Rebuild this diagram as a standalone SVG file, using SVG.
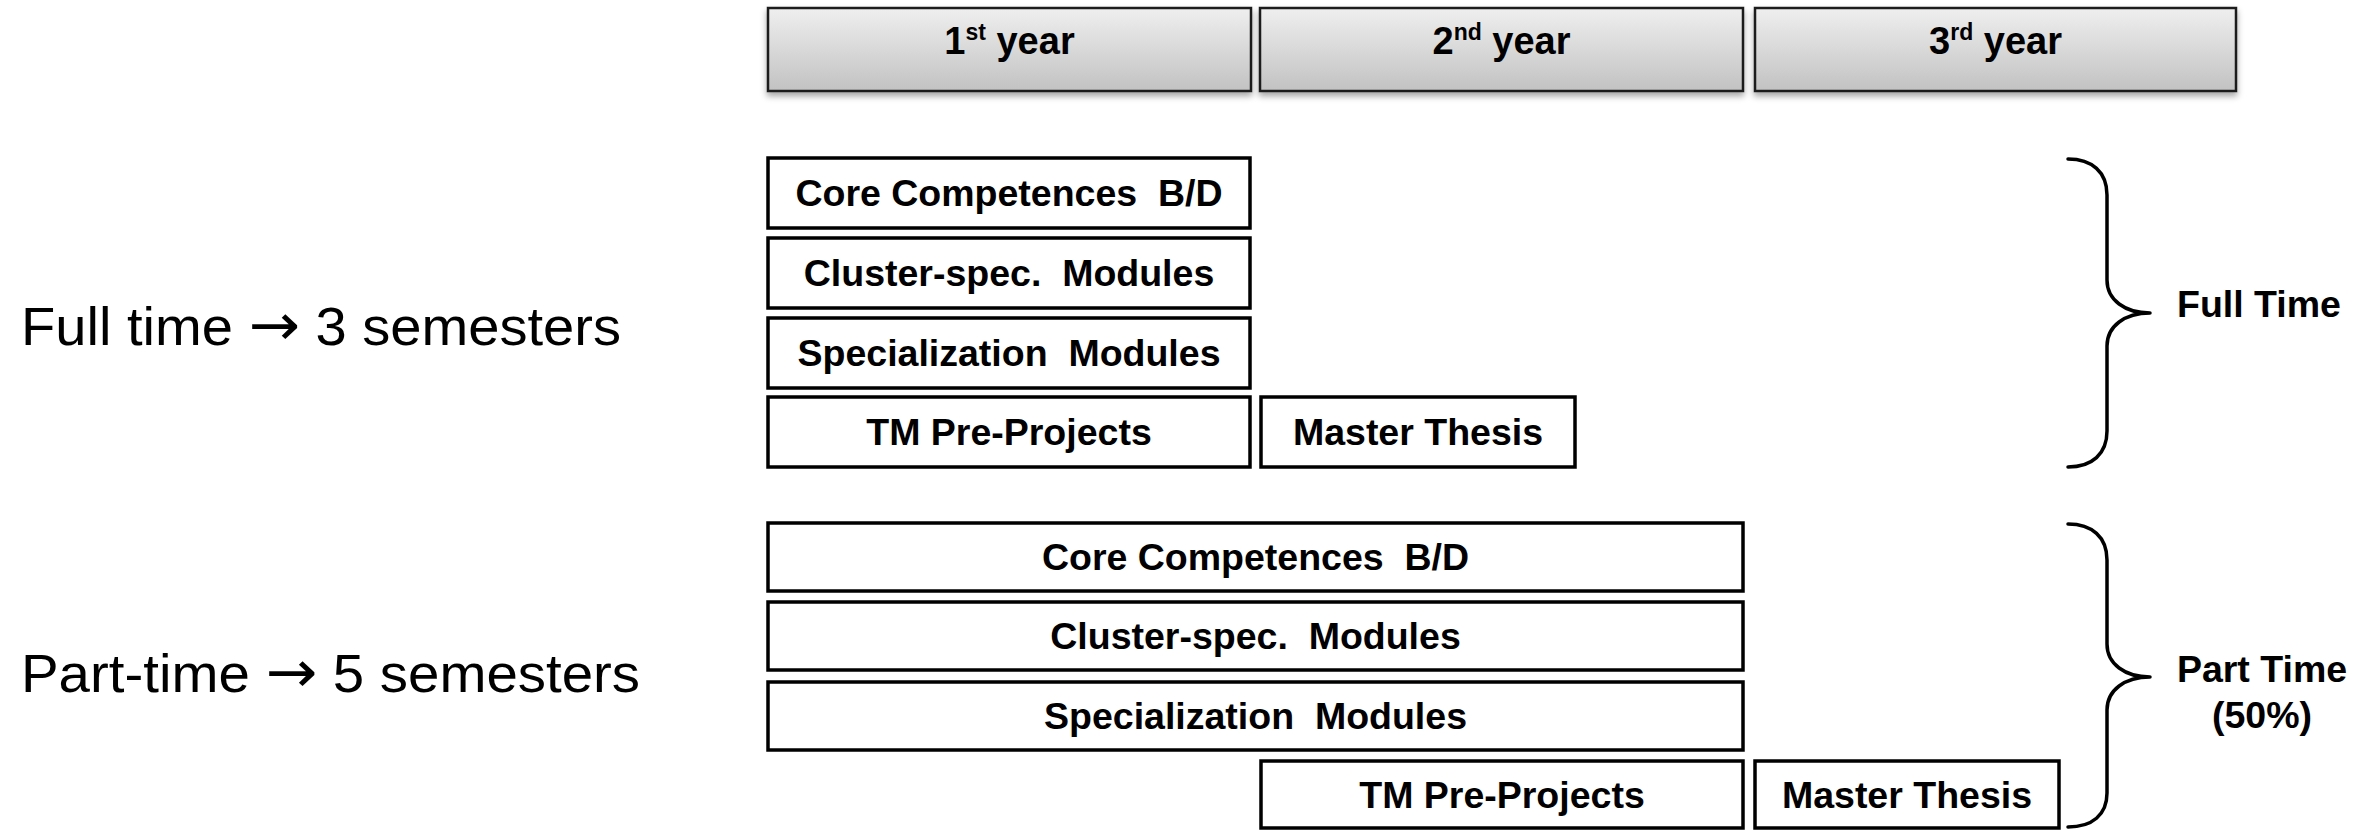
<svg xmlns="http://www.w3.org/2000/svg" width="2374" height="830" viewBox="0 0 2374 830">
<style>
.hdr{stroke:#1a1a1a;stroke-width:2.5;fill:url(#g);filter:url(#sh)}
.box{fill:#fff;stroke:#000;stroke-width:3.5}
.t{font-family:"Liberation Sans",Arial,sans-serif;font-weight:bold;font-size:37.5px;fill:#000;text-anchor:middle}
.h{font-family:"Liberation Sans",Arial,sans-serif;font-weight:bold;font-size:38px;fill:#000;text-anchor:middle}
.lbl{font-family:"Liberation Sans",Arial,sans-serif;font-size:53px;fill:#000}
.arr{font-family:"DejaVu Sans",sans-serif;font-size:58px}
.brace{fill:none;stroke:#000;stroke-width:3.5;stroke-linecap:round;stroke-linejoin:round}
</style>
<defs>
<linearGradient id="g" x1="0" y1="0" x2="0" y2="1">
<stop offset="0" stop-color="#efefef"/>
<stop offset="1" stop-color="#c2c2c2"/>
</linearGradient>
<filter id="sh" x="-5%" y="-20%" width="110%" height="150%">
<feDropShadow dx="0" dy="4" stdDeviation="3" flood-color="#000" flood-opacity="0.35"/>
</filter>
</defs>
<rect width="2374" height="830" fill="#fff"/>

<g id="year1"><rect class="hdr" x="768" y="8" width="483" height="83"/><text class="h" x="1009.5" y="54">1<tspan font-size="23" dy="-14">st</tspan><tspan dy="14"> year</tspan></text></g>
<g id="year2"><rect class="hdr" x="1260" y="8" width="483" height="83"/><text class="h" x="1501.5" y="54">2<tspan font-size="23" dy="-14">nd</tspan><tspan dy="14"> year</tspan></text></g>
<g id="year3"><rect class="hdr" x="1755" y="8" width="481" height="83"/><text class="h" x="1995.5" y="54">3<tspan font-size="23" dy="-14">rd</tspan><tspan dy="14"> year</tspan></text></g>

<text id="label-full" class="lbl" x="21" y="345" textLength="600" lengthAdjust="spacingAndGlyphs">Full time <tspan class="arr">→</tspan> 3 semesters</text>
<text id="label-part" class="lbl" x="21" y="692" textLength="619" lengthAdjust="spacingAndGlyphs">Part-time <tspan class="arr">→</tspan> 5 semesters</text>

<g id="ft-core"><rect class="box" x="768" y="158" width="482" height="70"/><text class="t" x="1009" y="206" xml:space="preserve">Core Competences  B/D</text></g>
<g id="ft-cluster"><rect class="box" x="768" y="238" width="482" height="70"/><text class="t" x="1009" y="286" xml:space="preserve">Cluster-spec.  Modules</text></g>
<g id="ft-spec"><rect class="box" x="768" y="318" width="482" height="70"/><text class="t" x="1009" y="366" xml:space="preserve">Specialization  Modules</text></g>
<g id="ft-pre"><rect class="box" x="768" y="397" width="482" height="70"/><text class="t" x="1009" y="445">TM Pre-Projects</text></g>
<g id="ft-thesis"><rect class="box" x="1261" y="397" width="314" height="70"/><text class="t" x="1418" y="445">Master Thesis</text></g>

<g id="pt-core"><rect class="box" x="768" y="523" width="975" height="68"/><text class="t" x="1255.5" y="570" xml:space="preserve">Core Competences  B/D</text></g>
<g id="pt-cluster"><rect class="box" x="768" y="602" width="975" height="68"/><text class="t" x="1255.5" y="649" xml:space="preserve">Cluster-spec.  Modules</text></g>
<g id="pt-spec"><rect class="box" x="768" y="682" width="975" height="68"/><text class="t" x="1255.5" y="729" xml:space="preserve">Specialization  Modules</text></g>
<g id="pt-pre"><rect class="box" x="1261" y="761" width="482" height="67"/><text class="t" x="1502" y="808">TM Pre-Projects</text></g>
<g id="pt-thesis"><rect class="box" x="1755" y="761" width="304" height="67"/><text class="t" x="1907" y="808">Master Thesis</text></g>

<g id="connectors">
<path class="brace" d="M2068 159 C2092 159 2107 172 2107 195 L2107 280 C2107 300 2125 313 2150 313 C2125 313 2107 326 2107 346 L2107 431 C2107 454 2092 467 2068 467"/>
<path class="brace" d="M2068 524 C2092 524 2107 537 2107 560 L2107 644 C2107 664 2125 677 2150 677 C2125 677 2107 690 2107 710 L2107 793 C2107 815 2092 827 2068 827"/>
</g>

<g id="full-time-label"><text class="h" x="2177" y="317" style="text-anchor:start;font-size:37.5px">Full Time</text></g>
<g id="part-time-label"><text class="h" x="2262" y="682" style="font-size:37.5px">Part Time</text><text class="h" x="2262" y="728" style="font-size:37.5px">(50%)</text></g>
</svg>
